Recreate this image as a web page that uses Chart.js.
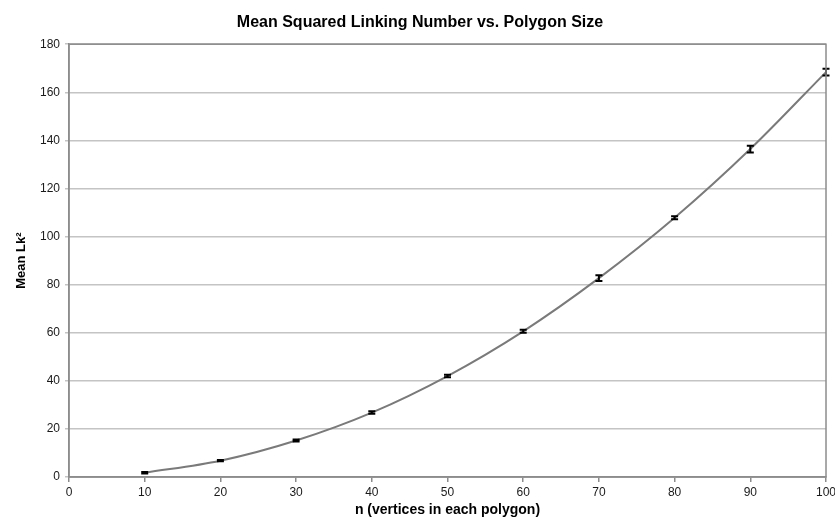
<!DOCTYPE html>
<html>
<head>
<meta charset="utf-8">
<script src="https://cdn.jsdelivr.net/npm/chart.js@4.4.0/dist/chart.umd.min.js"></script>
<style>
  html, body { margin: 0; padding: 0; background: #ffffff; }
  #wrap { width: 835px; height: 525px; }
</style>
</head>
<body>
<div id="wrap"><canvas id="c" width="835" height="525"></canvas></div>
<script>
// Polygon size (number of vertices) and the measured mean squared linking number
const polygonSizes = [10, 20, 30, 40, 50, 60, 70, 80, 90, 100];
const meanLk2 = [1.8, 6.8, 15.2, 26.8, 42.0, 60.6, 82.7, 107.8, 136.4, 168.4];
// Half-height of each error bar
const errors = [0.3, 0.3, 0.4, 0.5, 0.5, 0.6, 1.2, 0.6, 1.4, 1.4];

const xTicks = [0, 10, 20, 30, 40, 50, 60, 70, 80, 90, 100];
const yTicks = [0, 20, 40, 60, 80, 100, 120, 140, 160, 180];

const FONT = '"Liberation Sans", Arial, Helvetica, sans-serif';

// Frame around the plotting area
const frame = {
  id: 'frame',
  afterDraw(chart) {
    const { ctx, chartArea: a } = chart;
    ctx.save();
    ctx.strokeStyle = '#8c8c8c';
    ctx.lineWidth = 1.5;
    ctx.strokeRect(a.left, a.top, a.right - a.left, a.bottom - a.top);
    ctx.restore();
  }
};

// Vertical error bars with caps, positioned through the chart scales
const errorBars = {
  id: 'errorBars',
  afterDatasetsDraw(chart) {
    const { ctx, scales: { x, y } } = chart;
    ctx.save();
    ctx.strokeStyle = '#000000';
    ctx.lineWidth = 2;
    polygonSizes.forEach((n, i) => {
      const px = x.getPixelForValue(n);
      const top = y.getPixelForValue(meanLk2[i] + errors[i]);
      const bot = y.getPixelForValue(meanLk2[i] - errors[i]);
      ctx.beginPath();
      ctx.moveTo(px, top); ctx.lineTo(px, bot);
      ctx.moveTo(px - 3.5, top); ctx.lineTo(px + 3.5, top);
      ctx.moveTo(px - 3.5, bot); ctx.lineTo(px + 3.5, bot);
      ctx.stroke();
    });
    ctx.restore();
  }
};

new Chart(document.getElementById('c'), {
  type: 'line',
  data: {
    datasets: [{
      label: 'Mean Lk²',
      data: polygonSizes.map((n, i) => ({ x: n, y: meanLk2[i] })),
      borderColor: '#7a7a7a',
      borderWidth: 2,
      pointRadius: 0,
      cubicInterpolationMode: 'monotone',
      fill: false
    }]
  },
  options: {
    responsive: false,
    animation: false,
    layout: { padding: { left: 14, right: 9, top: 0, bottom: 6 } },
    plugins: {
      legend: { display: false },
      tooltip: { enabled: false },
      title: {
        display: true,
        text: 'Mean Squared Linking Number vs. Polygon Size',
        color: '#000000',
        font: { family: FONT, size: 16, weight: 'bold' },
        padding: { top: 13, bottom: 12 }
      }
    },
    scales: {
      x: {
        type: 'linear',
        min: 0, max: 100,
        afterBuildTicks(scale) { scale.ticks = xTicks.map(v => ({ value: v })); },
        afterFit(scale) {
          scale.height = 42;
          scale.paddingLeft = 0;
          scale.paddingRight = 0;
        },
        ticks: { color: '#1a1a1a', font: { family: FONT, size: 12 }, padding: 3, maxRotation: 0 },
        grid: { drawOnChartArea: false, drawTicks: true, tickLength: 5, color: '#8c8c8c', lineWidth: 1.5 },
        border: { display: true, color: '#8c8c8c', width: 1.5 },
        title: {
          display: true,
          text: 'n (vertices in each polygon)',
          color: '#000000',
          font: { family: FONT, size: 14, weight: 'bold' },
          padding: { top: 4, bottom: 0 }
        }
      },
      y: {
        min: 0, max: 180,
        afterBuildTicks(scale) { scale.ticks = yTicks.map(v => ({ value: v })); },
        afterFit(scale) { scale.width = 55; },
        ticks: { color: '#1a1a1a', font: { family: FONT, size: 12 }, padding: 5 },
        grid: { color: '#c4c4c4', lineWidth: 1.5, drawTicks: true, tickLength: 4 },
        border: { display: true, color: '#8c8c8c', width: 1.5 },
        title: {
          display: true,
          text: 'Mean Lk²',
          color: '#000000',
          font: { family: FONT, size: 13, weight: 'bold' },
          padding: { top: 0, bottom: 4 }
        }
      }
    }
  },
  plugins: [frame, errorBars]
});
</script>
</body>
</html>
